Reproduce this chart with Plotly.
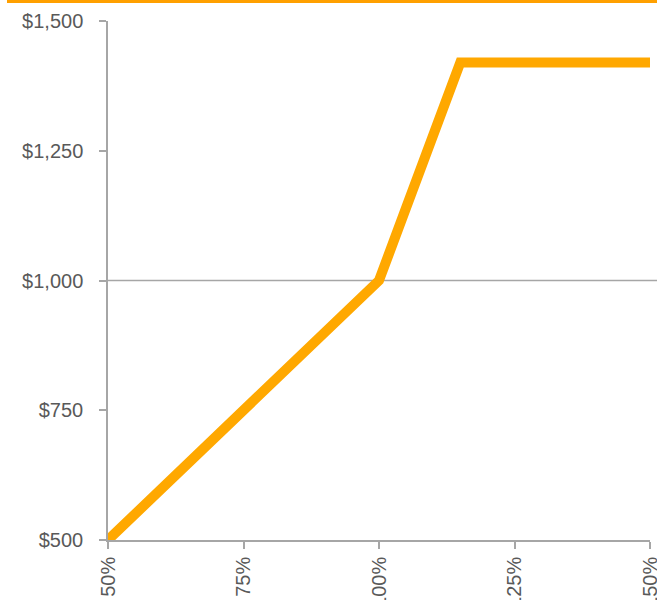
import plotly.graph_objects as go

performance = [0.50, 0.60, 0.70, 0.80, 0.90, 1.00, 1.05, 1.10, 1.15, 1.20, 1.30, 1.40, 1.50]
payoff = [500, 600, 700, 800, 900, 1000, 1140, 1280, 1420, 1420, 1420, 1420, 1420]
x_ticks = [0.50, 0.75, 1.00, 1.25, 1.50]
y_ticks = [500, 750, 1000, 1250, 1500]

W, H = 657, 600
ml, mr, mt, mb = 108, 7, 21, 60
pw, ph = W - ml - mr, H - mt - mb

fig = go.Figure()
fig.add_trace(go.Scatter(x=performance, y=payoff, mode="lines",
                         line=dict(color="#FFA800", width=10),
                         hoverinfo="skip", showlegend=False))

axis_color = "#A6A6A6"
font_color = "#595959"

fig.update_layout(
    width=W, height=H,
    margin=dict(l=ml, r=mr, t=mt, b=mb),
    paper_bgcolor="white", plot_bgcolor="white",
    font=dict(family="Liberation Sans, Arial, sans-serif", size=20, color=font_color),
    xaxis=dict(range=[0.5, 1.5], tickvals=x_ticks, tickformat=".0%",
               tickangle=-90, showgrid=False, zeroline=False,
               showline=True, linecolor=axis_color, linewidth=1.5,
               ticks="outside", ticklen=7, tickcolor=axis_color, tickwidth=1.5,
               ticklabeloverflow="allow", automargin=False),
    yaxis=dict(range=[500, 1500], tickvals=y_ticks, tickformat="$,.0f",
               showgrid=False, zeroline=False,
               showline=True, linecolor=axis_color, linewidth=1.5,
               ticks="outside", ticklen=7, tickcolor=axis_color, tickwidth=1.5,
               ticklabelstandoff=12, ticklabeloverflow="allow", automargin=False),
    shapes=[
        dict(type="line", xref="paper", yref="y", x0=0, x1=(W - ml) / pw, y0=1000, y1=1000,
             line=dict(color=axis_color, width=1.5), layer="below"),
        dict(type="line", xref="paper", yref="paper",
             x0=(7 - ml) / pw, x1=(W - ml) / pw,
             y0=1 + (mt - 1.5) / ph, y1=1 + (mt - 1.5) / ph,
             line=dict(color="#FFA000", width=3)),
    ],
)

fig.write_html("out.html", config={"displayModeBar": False},
               post_script="document.body.style.margin='0';document.body.style.overflow='hidden';")
